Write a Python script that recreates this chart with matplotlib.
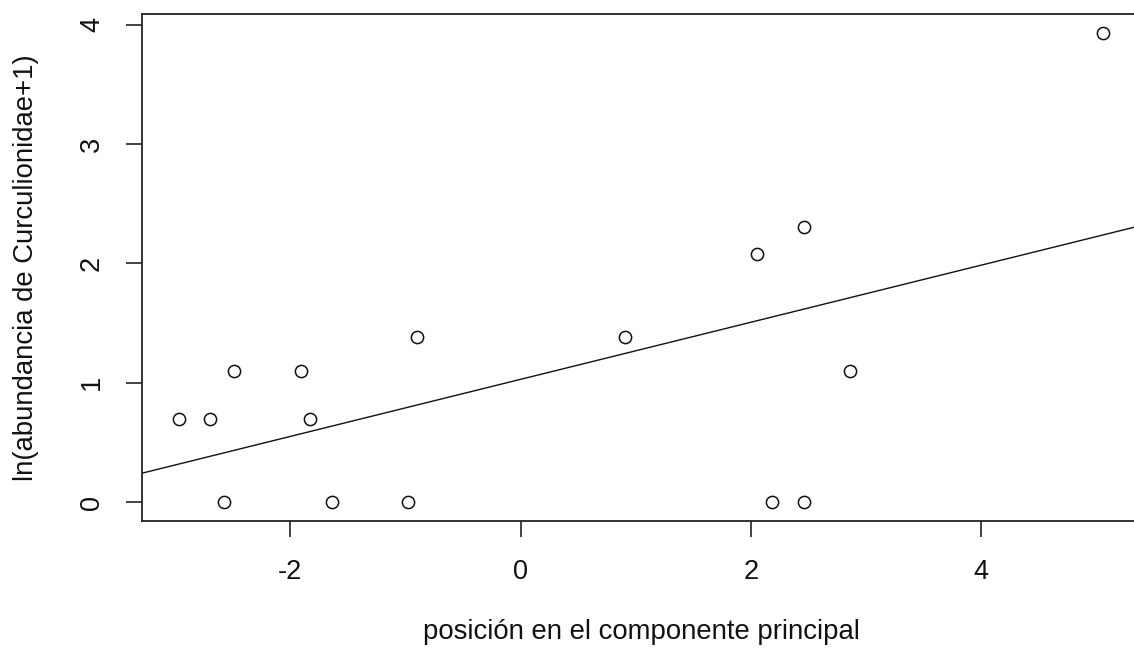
import numpy as np
import matplotlib
matplotlib.use("Agg")
import matplotlib.pyplot as plt

plt.rcParams['font.family'] = ['Liberation Sans', 'DejaVu Sans']
plt.rcParams['axes.unicode_minus'] = False

# puntuaciones en el componente principal
pc1 = [-2.97, -2.70, -2.58, -2.49, -1.91, -1.83, -1.64, -0.98, -0.90,
       0.91, 2.05, 2.18, 2.46, 2.46, 2.86, 5.06]
# abundancia de Curculionidae
abund = [1, 1, 0, 2, 2, 1, 0, 0, 3, 3, 7, 0, 9, 0, 2, 50]

x = np.array(pc1)
y = np.log(np.array(abund) + 1)

xlab = 'posición en el componente principal'
ylab = 'ln(abundancia de Curculionidae+1)'
xticks = [-2, 0, 2, 4]
yticks = [0, 1, 2, 3, 4]

W, H = 1134, 653
fig = plt.figure(figsize=(W / 100, H / 100), dpi=100)
ax = fig.add_axes([141.7 / W, 132 / H, (1140 - 141.7) / W, (521 - 14) / H])

# rango como en R (4% a cada lado)
def r_lim(v):
    r = v.max() - v.min()
    return v.min() - 0.04 * r, v.max() + 0.04 * r

ax.set_xlim(*r_lim(x))
ax.set_ylim(*r_lim(y))

# recta de regresión
b, a = np.polyfit(x, y, 1)
xx = np.array(ax.get_xlim())
ax.plot(xx, a + b * xx, color='#111111', lw=1.0)

ax.plot(x, y, linestyle='none', marker='o', ms=8.8, mfc='none',
        mec='#111111', mew=1.1)

for s in ax.spines.values():
    s.set_linewidth(1.3)
    s.set_color('#222222')

ax.set_xticks(xticks)
ax.set_yticks(yticks)
ax.tick_params(axis='both', direction='out', length=11.5, width=1.2,
               color='#222222', labelsize=19.5, labelcolor='#111111')
ax.tick_params(axis='x', pad=16)
ax.tick_params(axis='y', pad=15)
for t in ax.get_yticklabels():
    t.set_rotation(90)
    t.set_va('center')

fig.text(641 / W, 1 - 632 / H, xlab, ha='center', va='center',
         fontsize=19.8, color='#111111')
fig.text(26 / W, 1 - 267.5 / H, ylab, ha='center', va='center',
         rotation=90, fontsize=19.8, color='#111111')

fig.savefig('out.png', dpi=100)
